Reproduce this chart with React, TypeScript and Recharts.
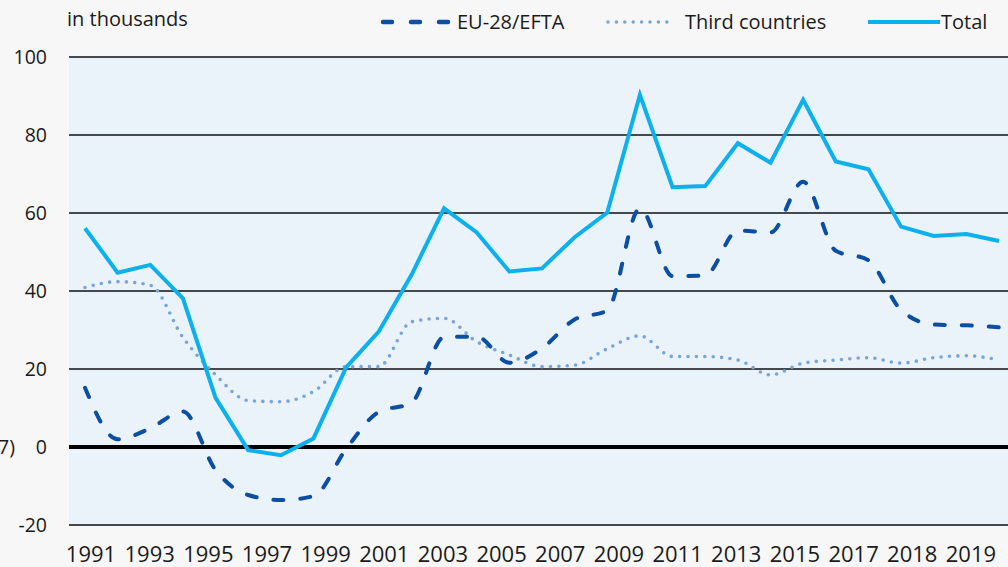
import React from 'react';
import { LineChart, Line, XAxis, YAxis, CartesianGrid, ReferenceLine } from 'recharts';

const years = [
  1991, 1992, 1993, 1994, 1995, 1996, 1997, 1998, 1999, 2000,
  2001, 2002, 2003, 2004, 2005, 2006, 2007, 2008, 2009, 2010,
  2011, 2012, 2013, 2014, 2015, 2016, 2017, 2018, 2019,
];

const euEfta = [
  15.2, 2.0, 4.8, 9.1, -5.9, -12.3, -13.6, -12.6, -0.5, 9.0,
  11.3, 28.2, 28.3, 21.6, 25.3, 32.7, 35.0, 61.2, 43.8, 44.0,
  55.5, 55.0, 68.0, 50.3, 47.9, 35.1, 31.4, 31.2, 30.7,
];

const thirdCountries = [
  40.9, 42.4, 41.5, 28.1, 18.5, 11.9, 11.6, 14.2, 20.6, 20.6,
  32.1, 33.0, 27.0, 23.6, 20.6, 21.0, 25.2, 28.5, 23.2, 23.2,
  22.3, 18.5, 21.5, 22.3, 22.9, 21.5, 22.9, 23.4, 22.3,
];

const total = [
  56.1, 44.7, 46.7, 38.1, 12.6, -0.8, -2.1, 2.2, 20.4, 29.6,
  44.1, 61.2, 55.0, 45.0, 45.8, 53.8, 60.1, 90.3, 66.6, 66.9,
  77.9, 72.9, 89.0, 73.2, 71.2, 56.5, 54.1, 54.6, 52.8,
];

// labels as printed under the axis; they are spaced evenly and don't sit on the yearly points
const xLabels = [
  '1991', '1993', '1995', '1997', '1999', '2001', '2003', '2005',
  '2007', '2009', '2011', '2013', '2015', '2017', '2018', '2019',
];

const yTicks = [-20, 0, 20, 40, 60, 80, 100];

const data = years.map((yr, i) => ({
  yr,
  eu: euEfta[i],
  third: thirdCountries[i],
  total: total[i],
}));

// x axis in year units; label slots are a bit wider than one year
const xDomain: [number, number] = [1990.51, 2019.276];
const labelStart = 1991.184;
const labelStep = 1.797;
const labelTicks = xLabels.map((_, i) => labelStart + i * labelStep);
const labelFor = (v: number) => xLabels[Math.round((v - labelStart) / labelStep)] ?? '';

const COLORS = {
  eu: '#0b4ea2',
  third: '#7aa3d6',
  total: '#0cb0ec',
};

const textColor = '#1a1a1a';
const font = '"Open Sans", "Noto Sans", sans-serif';

const LegendIcon: React.FC<{ kind: 'eu' | 'third' | 'total'; width: number }> = ({ kind, width }) => (
  <svg width={width} height={12} style={{ display: 'block' }}>
    {kind === 'eu' && (
      <line x1={4} y1={6} x2={width - 2} y2={6} stroke={COLORS.eu} strokeWidth={4.5}
        strokeLinecap="round" strokeDasharray="9 19" />
    )}
    {kind === 'third' && (
      <line x1={3} y1={6} x2={width - 2} y2={6} stroke={COLORS.third} strokeWidth={3.5}
        strokeLinecap="round" strokeDasharray="0 8.4" />
    )}
    {kind === 'total' && (
      <line x1={0} y1={6} x2={width} y2={6} stroke={COLORS.total} strokeWidth={4} />
    )}
  </svg>
);

const legendItems = [
  { kind: 'eu' as const, label: 'EU-28/EFTA', iconLeft: 379, iconWidth: 76, textLeft: 457 },
  { kind: 'third' as const, label: 'Third countries', iconLeft: 605, iconWidth: 70, textLeft: 685 },
  { kind: 'total' as const, label: 'Total', iconLeft: 868, iconWidth: 72, textLeft: 941 },
];

export default function App() {
  return (
    <div
      style={{
        position: 'absolute',
        left: 0,
        top: 0,
        width: 1008,
        height: 567,
        overflow: 'hidden',
        background: '#f7f7f7',
        fontFamily: font,
        color: textColor,
      }}
    >
      <LineChart width={1008} height={567} data={data} margin={{ top: 57, right: 0, bottom: 0, left: 0 }}>
        <CartesianGrid vertical={false} fill="#eaf2fa" stroke="#45484c" strokeWidth={2} />
        <XAxis
          dataKey="yr"
          type="number"
          domain={xDomain}
          allowDataOverflow
          ticks={labelTicks}
          tickFormatter={labelFor}
          interval={0}
          axisLine={false}
          tickLine={false}
          tickSize={0}
          tickMargin={21}
          height={42}
          tick={{ fontSize: 22, fill: textColor, fontFamily: font }}
        />
        <YAxis
          width={69}
          domain={[-20, 100]}
          ticks={yTicks}
          axisLine={false}
          tickLine={false}
          tickSize={0}
          tickMargin={22}
          tick={{ fontSize: 19.5, fill: textColor, fontFamily: font }}
        />
        <ReferenceLine y={0} stroke="#000" strokeWidth={4} />
        <Line
          type="monotone"
          dataKey="third"
          stroke={COLORS.third}
          strokeWidth={3.6}
          strokeLinecap="round"
          strokeDasharray="0 8.4"
          dot={false}
          activeDot={false}
          isAnimationActive={false}
        />
        <Line
          type="monotone"
          dataKey="eu"
          stroke={COLORS.eu}
          strokeWidth={4}
          strokeLinecap="round"
          strokeDasharray="10 17"
          dot={false}
          activeDot={false}
          isAnimationActive={false}
        />
        <Line
          type="linear"
          dataKey="total"
          stroke={COLORS.total}
          strokeWidth={4}
          dot={false}
          activeDot={false}
          isAnimationActive={false}
        />
      </LineChart>

      <div style={{ position: 'absolute', left: 67, top: 8, fontSize: 20, lineHeight: '22px' }}>in thousands</div>
      {legendItems.map((item) => (
        <React.Fragment key={item.kind}>
          <div style={{ position: 'absolute', left: item.iconLeft, top: 16 }}>
            <LegendIcon kind={item.kind} width={item.iconWidth} />
          </div>
          <div style={{ position: 'absolute', left: item.textLeft, top: 11, fontSize: 20, lineHeight: '22px' }}>
            {item.label}
          </div>
        </React.Fragment>
      ))}
      <div style={{ position: 'absolute', left: -20, width: 35, top: 436, fontSize: 19.5, lineHeight: '22px', textAlign: 'right' }}>
        7)
      </div>
    </div>
  );
}
